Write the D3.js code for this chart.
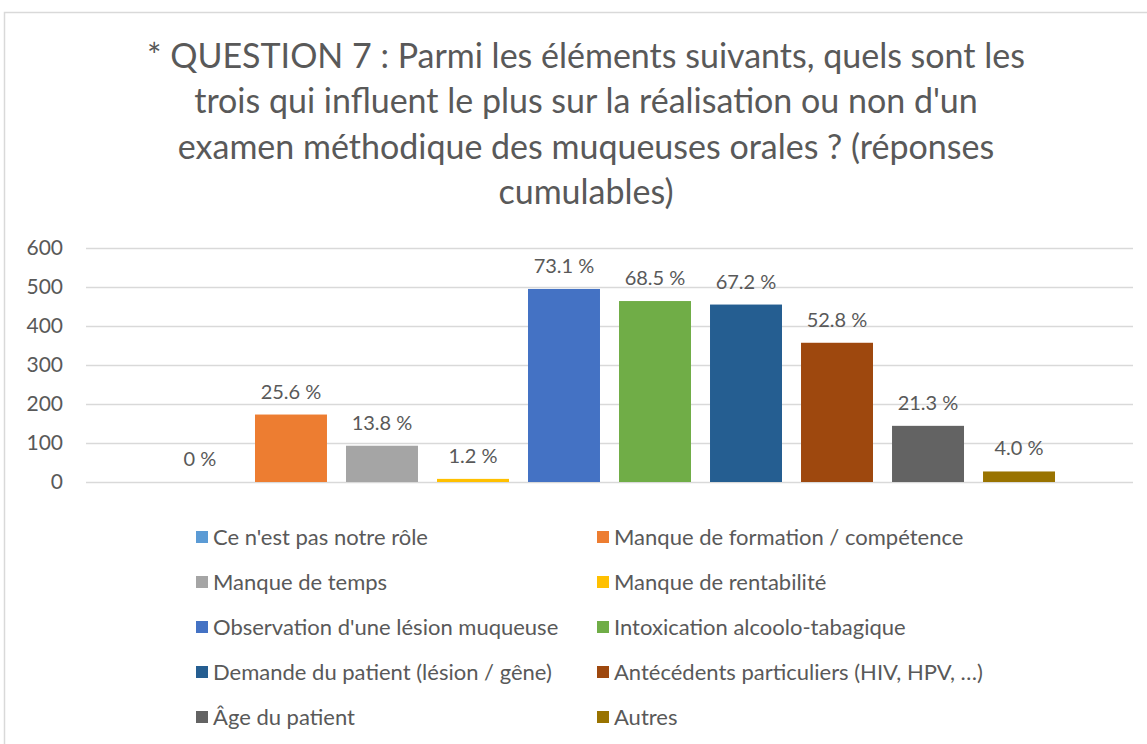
<!DOCTYPE html>
<html>
<head>
<meta charset="utf-8">
<script src="https://cdn.jsdelivr.net/npm/d3@7"></script>
<style>
  body { margin: 0; background: #fff; }
  svg { display: block; font-family: Lato, "Open Sans", sans-serif; }
</style>
</head>
<body>
<svg id="chart" width="1147" height="744"></svg>
<script>
// data
var categories = [
  "Ce n'est pas notre rôle",
  "Manque de formation / compétence",
  "Manque de temps",
  "Manque de rentabilité",
  "Observation d'une lésion muqueuse",
  "Intoxication alcoolo-tabagique",
  "Demande du patient (lésion / gêne)",
  "Antécédents particuliers (HIV, HPV, …)",
  "Âge du patient",
  "Autres"
];
var counts = [0, 173, 93, 8, 495, 464, 455, 357, 144, 27];
var pctLabels = ["0 %", "25.6 %", "13.8 %", "1.2 %", "73.1 %", "68.5 %", "67.2 %", "52.8 %", "21.3 %", "4.0 %"];
var colors = ["#5B9BD5", "#ED7D31", "#A5A5A5", "#FFC000", "#4472C4", "#70AD47", "#255E91", "#9E480E", "#636363", "#997300"];
var yTicks = [0, 100, 200, 300, 400, 500, 600];
var titleLines = [
  "* QUESTION 7 : Parmi les éléments suivants, quels sont les",
  "trois qui influent le plus sur la réalisation ou non d'un",
  "examen méthodique des muqueuses orales ? (réponses",
  "cumulables)"
];

var svg = d3.select("#chart");

// chart frame (runs past the right/bottom edge like the screenshot)
svg.append("rect")
  .attr("x", 4.5).attr("y", 12.5)
  .attr("width", 1160).attr("height", 760)
  .attr("fill", "#fff")
  .attr("stroke", "#d9d9d9")
  .attr("stroke-width", 1.5);

// title
svg.append("g")
  .selectAll("text")
  .data(titleLines)
  .enter()
  .append("text")
  .attr("x", 586)
  .attr("y", function(d, i) { return 68 + i * 45.3; })
  .attr("text-anchor", "middle")
  .attr("font-size", 34)
  .attr("fill", "#595959")
  .text(function(d) { return d; });

var plotLeft = 86, plotRight = 1133, plotTop = 248, plotBottom = 482;

var xScale = d3.scaleBand()
  .domain(categories)
  .range([plotLeft, plotRight])
  .paddingInner(0.209)
  .paddingOuter(0.857);

var yScale = d3.scaleLinear()
  .domain([0, 600])
  .range([plotBottom, plotTop]);

// gridlines
var grid = svg.append("g")
  .attr("transform", "translate(" + plotLeft + ",0)")
  .call(d3.axisLeft(yScale).tickValues(yTicks).tickSize(-(plotRight - plotLeft)).tickFormat(""));
grid.select(".domain").remove();
grid.selectAll("line").attr("stroke", "#d9d9d9").attr("stroke-width", 1.5);

// y axis labels
var yAxis = svg.append("g")
  .attr("transform", "translate(63,0)")
  .call(d3.axisLeft(yScale).tickValues(yTicks).tickSize(0).tickPadding(0));
yAxis.select(".domain").remove();
yAxis.selectAll("text")
  .attr("font-size", 21)
  .attr("font-family", "Lato, sans-serif")
  .attr("fill", "#595959");

// bars
svg.append("g")
  .selectAll("rect")
  .data(counts)
  .enter()
  .append("rect")
  .attr("x", function(d, i) { return xScale(categories[i]); })
  .attr("y", function(d) { return yScale(d); })
  .attr("width", xScale.bandwidth())
  .attr("height", function(d) { return yScale(0) - yScale(d); })
  .attr("fill", function(d, i) { return colors[i]; });

// data labels
svg.append("g")
  .selectAll("text")
  .data(counts)
  .enter()
  .append("text")
  .attr("x", function(d, i) { return xScale(categories[i]) + xScale.bandwidth() / 2; })
  .attr("y", function(d) { return yScale(d) - 16; })
  .attr("text-anchor", "middle")
  .attr("font-size", 20)
  .attr("fill", "#595959")
  .text(function(d, i) { return pctLabels[i]; });

// legend, two columns
var legend = svg.append("g")
  .selectAll("g")
  .data(categories)
  .enter()
  .append("g")
  .attr("transform", function(d, i) {
    return "translate(" + (i % 2 === 0 ? 196 : 597) + "," + (537 + Math.floor(i / 2) * 45) + ")";
  });
legend.append("rect")
  .attr("x", 0).attr("y", -6)
  .attr("width", 12).attr("height", 12)
  .attr("fill", function(d, i) { return colors[i]; });
legend.append("text")
  .attr("x", 17)
  .attr("y", 7.5)
  .attr("font-size", 22)
  .attr("fill", "#595959")
  .text(function(d) { return d; });
</script>
</body>
</html>
